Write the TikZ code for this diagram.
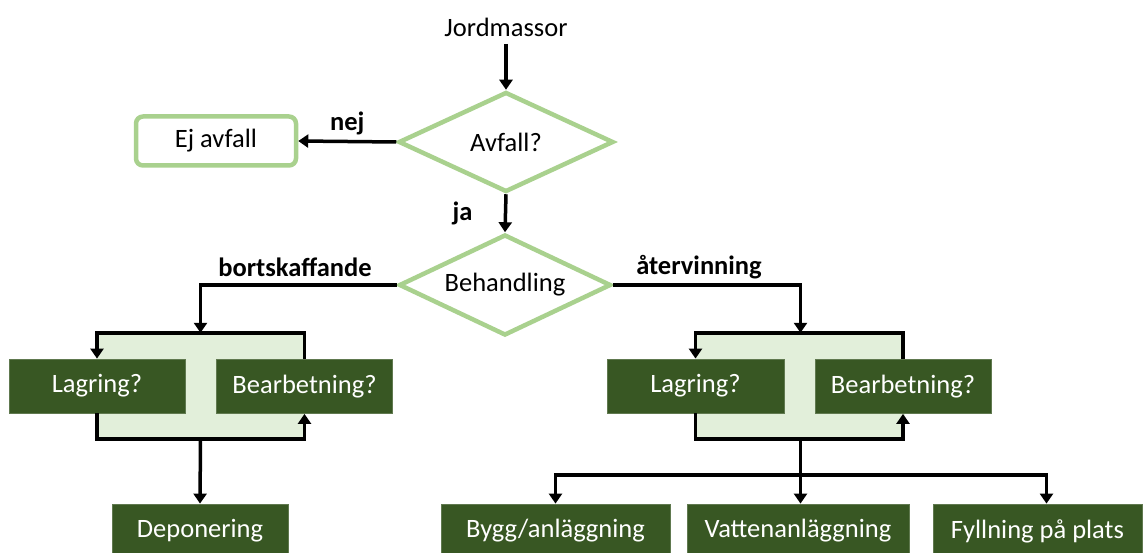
\documentclass[tikz,border=0pt]{standalone}
\usepackage{fontspec}
\setmainfont{Carlito}
\usetikzlibrary{shapes.geometric,arrows.meta}
\definecolor{leaf}{HTML}{A9D18E}
\definecolor{forest}{HTML}{385723}
\definecolor{mint}{HTML}{E2EFDA}
\begin{document}
\begin{tikzpicture}[x=1pt,y=-1pt,
  font=\fontsize{26.5}{30}\selectfont,
  decision/.style={diamond,draw=leaf,line width=4.5pt,inner sep=0pt,fill=white},
  softbox/.style={rectangle,rounded corners=7pt,draw=leaf,line width=4.5pt,
    minimum width=160pt,minimum height=49pt,inner sep=0pt},
  darkbox/.style={rectangle,fill=forest,draw=forest!80!white,line width=0.8pt,
    text=white,minimum height=54pt,inner sep=0pt},
  loopbox/.style={rectangle,fill=mint,inner sep=0pt,minimum width=209pt,minimum height=106pt},
  conn/.style={line width=3.5pt,-{Triangle[width=13pt,length=10pt]}},
  plainline/.style={line width=3.5pt},
  tag/.style={font=\fontsize{26.5}{30}\selectfont\bfseries}]
\useasboundingbox (0,0) rectangle (1144,553);
\clip (0,0) rectangle (1144,553);

% start and first decision
\node (src) at (506,27) {Jordmassor};
\node[decision,minimum width=215pt,minimum height=100pt] (avf) at (506,142) {};
\node at (avf) {Avfall?};
\node[softbox] (ej) at (216,141) {Ej avfall};
\node[decision,minimum width=212pt,minimum height=101pt] (beh) at (505,285) {};
\node at (beh) {Behandling};

% left loop: storage / processing before disposal
\node[loopbox] (lbox) at (200.5,386) {};
\node[darkbox,minimum width=176pt] (lagL) at (97,386) {Lagring?};
\node[darkbox,minimum width=176pt] (bearL) at (304.5,386.5) {Bearbetning?};

% right loop: storage / processing before recovery
\node[loopbox] (rbox) at (800.5,386) {};
\node[darkbox,minimum width=177pt] (lagR) at (695.5,386) {Lagring?};
\node[darkbox,minimum width=176pt] (bearR) at (903,386.5) {Bearbetning?};

% end points
\node[darkbox,minimum width=176pt] (dep) at (200,531) {Deponering};
\node[darkbox,minimum width=229pt] (bygg) at (555.5,531) {Bygg/anläggning};
\node[darkbox,minimum width=222pt] (vatten) at (798,531) {Vattenanläggning};
\node[darkbox,minimum width=209pt] (fyll) at (1037.5,531) {Fyllning på plats};
\coordinate (split) at (800.5,475);

% connectors
\draw[conn] ([yshift=-4pt]src.south) -- (avf.north);
\draw[conn] (avf.west) -- (ej.east) node[tag,midway,above=1pt] {nej};
\draw[conn] (avf.south) -- (beh.north) node[tag,midway,left=28pt] {ja};
\draw[conn] (beh.west) -| (lbox.north);
\node[tag] at (295,267) {bortskaffande};
\draw[conn] (beh.east) -| (rbox.north);
\node[tag] at (699,267) {återvinning};

\draw[conn] (bearL.north) |- (lbox.north) -| (lagL.north);
\draw[conn] (lagL.south) |- (lbox.south) -| (bearL.south);
\draw[conn] (bearR.north) |- (rbox.north) -| (lagR.north);
\draw[conn] (lagR.south) |- (rbox.south) -| (bearR.south);

\draw[conn] (lbox.south) -- (dep.north);
\draw[plainline] (rbox.south) -- (split);
\draw[conn] (split) -| (bygg.north);
\draw[conn] (split) -- (split |- vatten.north);
\draw[conn] (split) -| ([xshift=9pt]fyll.north);
\end{tikzpicture}
\end{document}
